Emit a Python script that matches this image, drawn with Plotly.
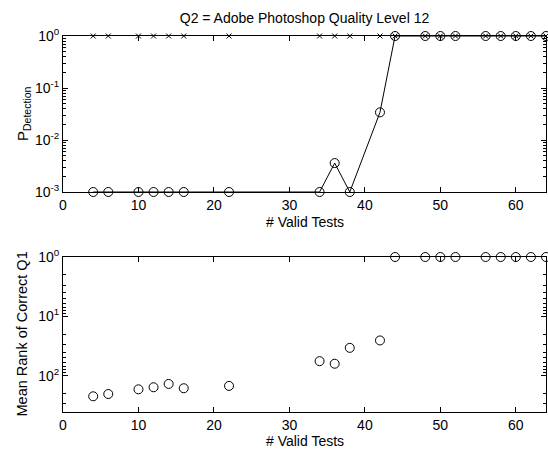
import numpy as np
import plotly.graph_objects as go
from plotly.subplots import make_subplots

valid_tests = [4, 6, 10, 12, 14, 16, 22, 34, 36, 38, 42, 44, 48, 50, 52, 56, 58, 60, 62, 64]
p_detection = [1e-3, 1e-3, 1e-3, 1e-3, 1e-3, 1e-3, 1e-3, 1e-3, 0.0036, 1e-3, 0.034,
               1, 1, 1, 1, 1, 1, 1, 1, 1]
p_reference = [1] * len(valid_tests)
mean_rank = [223, 204, 170, 157, 138, 163, 149, 57, 63, 34, 25.5,
             1, 1, 1, 1, 1, 1, 1, 1, 1]

title_text = "Q2 = Adobe Photoshop Quality Level 12"
x_title = "# Valid Tests"
top_ytitle = "P<sub>Detection</sub>"
bot_ytitle = "Mean Rank of Correct Q1"
x_ticks = [0, 10, 20, 30, 40, 50, 60]
top_yticks = [1e-3, 1e-2, 1e-1, 1]
top_ylabels = ["10<sup>-3</sup>", "10<sup>-2</sup>", "10<sup>-1</sup>", "10<sup>0</sup>"]
bot_yticks = [1, 10, 100]
bot_ylabels = ["10<sup>0</sup>", "10<sup>1</sup>", "10<sup>2</sup>"]

FONT = "Liberation Sans, Arial, sans-serif"
W, H = 548, 450
L, R, T, B = 63, 2, 36, 38
plot_w = W - L - R
plot_h = H - T - B


def py(p):
    return 1 - (p - T) / plot_h


def px(p):
    return (p - L) / plot_w


fig = make_subplots(rows=2, cols=1, vertical_spacing=0.05)

fig.add_trace(go.Scatter(x=valid_tests, y=p_reference, mode="markers",
                         marker=dict(symbol="x-thin-open", size=5, color="black",
                                     line=dict(color="black", width=1)),
                         cliponaxis=False, showlegend=False), row=1, col=1)
fig.add_trace(go.Scatter(x=valid_tests, y=p_detection, mode="lines+markers",
                         line=dict(color="black", width=1),
                         marker=dict(symbol="circle-open", size=9, color="black",
                                     line=dict(color="black", width=1)),
                         cliponaxis=False, showlegend=False), row=1, col=1)
fig.add_trace(go.Scatter(x=valid_tests, y=mean_rank, mode="markers",
                         marker=dict(symbol="circle-open", size=9, color="black",
                                     line=dict(color="black", width=1)),
                         cliponaxis=False, showlegend=False), row=2, col=1)

d1 = [py(192), 1]
d2 = [0, py(257)]

axis_common = dict(showline=True, linecolor="black", linewidth=1, mirror="allticks",
                   ticks="inside", ticklen=5, tickcolor="black", showgrid=False,
                   zeroline=False, tickfont=dict(size=14, color="black", family=FONT))

fig.update_xaxes(range=[0, 64], tickvals=x_ticks, **axis_common)
fig.update_yaxes(**axis_common)
fig.update_yaxes(type="log", range=[-3, 0], tickvals=top_yticks, ticktext=top_ylabels,
                 minor=dict(ticks="inside", ticklen=3, tickcolor="black", dtick="D1", showgrid=False),
                 domain=d1, row=1, col=1)
fig.update_yaxes(type="log", range=[np.log10(410), 0], tickvals=bot_yticks, ticktext=bot_ylabels,
                 minor=dict(ticks="inside", ticklen=3, tickcolor="black", dtick="D1", showgrid=False),
                 domain=d2, row=2, col=1)

lab_font = dict(size=14, color="black", family=FONT)
annos = [
    dict(text=x_title, x=0.5, y=py(222), xref="paper", yref="paper",
         xanchor="center", yanchor="middle", showarrow=False, font=lab_font),
    dict(text=x_title, x=0.5, y=py(441), xref="paper", yref="paper",
         xanchor="center", yanchor="middle", showarrow=False, font=lab_font),
    dict(text=top_ytitle, x=px(24), y=py((36 + 192) / 2), xref="paper", yref="paper",
         xanchor="center", yanchor="middle", textangle=-90, showarrow=False,
         font=dict(size=15, color="black", family=FONT)),
    dict(text=bot_ytitle, x=px(21), y=py((257 + 412) / 2), xref="paper", yref="paper",
         xanchor="center", yanchor="middle", textangle=-90, showarrow=False,
         font=dict(size=14.5, color="black", family=FONT)),
]

fig.update_layout(width=W, height=H, margin=dict(l=L, r=R, t=T, b=B),
                  plot_bgcolor="white", paper_bgcolor="white",
                  font=dict(family=FONT, color="black"),
                  annotations=annos,
                  title=dict(text=title_text, x=(L + W - R) / 2 / W, xanchor="center",
                             y=1 - 18 / H, yanchor="middle",
                             font=dict(size=14, color="black", family=FONT)))

fig.write_html("out.html", config={"displayModeBar": False},
               post_script="document.body.style.margin='0';document.body.style.overflow='hidden';")
